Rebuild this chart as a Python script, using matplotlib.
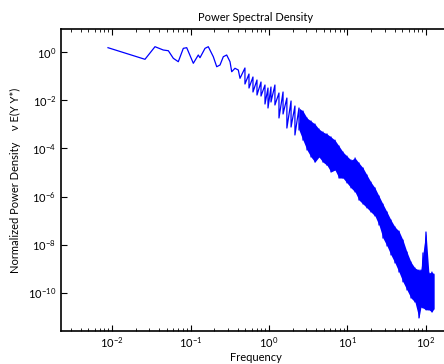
import numpy as np
import matplotlib
matplotlib.use("Agg")
import matplotlib.pyplot as plt
from matplotlib.ticker import LogLocator, NullFormatter, NullLocator, FixedLocator

plt.rcParams['font.family'] = ['Lato', 'DejaVu Sans']
plt.rcParams['mathtext.default'] = 'regular'

# low frequency part: single spectral bins
low_freq = [0.00889, 0.0263, 0.0353, 0.0450, 0.0522, 0.0604, 0.0699, 0.0810,
            0.0895, 0.1086, 0.1257, 0.1321, 0.1531, 0.1685, 0.1952, 0.2158,
            0.2377, 0.2618, 0.2891, 0.3187, 0.3350, 0.3687, 0.4064, 0.4273]
low_psd = [1.51, 0.498, 1.66, 1.21, 1.13, 0.548, 0.396, 1.42,
           1.51, 0.340, 0.751, 0.580, 1.42, 1.66, 0.638, 0.245,
           0.289, 0.638, 0.751, 0.396, 0.152, 0.211, 0.179, 0.0810]

# dense part: upper / lower edge of the noisy band
band_freq = [0.494, 0.556, 0.625, 0.703, 0.791, 0.889, 0.971, 1.06, 1.19, 1.34,
             1.51, 1.69, 1.91, 2.14, 2.41, 2.71, 3.05, 3.43, 3.85, 4.33,
             4.87, 5.48, 6.16, 6.93, 7.79, 8.76, 9.85, 11.1, 12.5, 14.0,
             15.8, 17.7, 19.9, 22.4, 25.2, 28.3, 31.9, 35.8, 40.3, 45.3,
             50.9, 57.3, 64.4, 72.4, 81.4, 86.3, 91.6, 100.0, 109.0, 119.0, 126.0]
band_upper = [0.217, 0.122, 0.0918, 0.0689, 0.0569, 0.0427, 0.032, 0.0353, 0.0427, 0.0199,
              0.0219, 0.0123, 0.00927, 0.00574, 0.00475, 0.00356, 0.00183, 0.00137, 0.00103, 6.4e-4,
              4.8e-4, 4.0e-4, 3.0e-4, 2.2e-4, 1.26e-4, 7.1e-5, 4.8e-5, 3.3e-5, 4.0e-5, 2.5e-5,
              1.54e-5, 7.9e-6, 4.0e-6, 2.3e-6, 1.06e-6, 4.9e-7, 2.3e-7, 1.07e-7, 5.5e-8, 3.7e-8,
              1.58e-8, 5.0e-9, 1.93e-9, 1.09e-9, 9.0e-10, 9.0e-10, 4.6e-9, 3.4e-8, 6.8e-10, 7.4e-10, 6.1e-10]
band_lower = [0.047, 0.032, 0.0219, 0.0164, 0.0149, 0.00695, 0.00475, 0.00841, 0.00632, 0.00183,
              0.00268, 7.0e-4, 7.7e-4, 3.6e-4, 5.8e-4, 2.2e-4, 8.6e-5, 4.4e-5, 2.7e-5, 4.4e-5,
              2.7e-5, 2.0e-5, 1.05e-5, 1.27e-5, 5.9e-6, 5.9e-6, 3.7e-6, 2.3e-6, 1.55e-6, 7.2e-7,
              4.9e-7, 3.4e-7, 2.3e-7, 1.57e-7, 6.6e-8, 1.9e-8, 8.9e-9, 3.8e-9, 1.76e-9, 7.4e-10,
              2.9e-10, 1.33e-10, 6.2e-11, 4.2e-11, 9.2e-12, 2.6e-11, 2.4e-11, 2.0e-11, 2.0e-11, 1.63e-11, 2.2e-11]

y_ticks = [1e-10, 1e-8, 1e-6, 1e-4, 1e-2, 1e0]

fig = plt.figure(figsize=(4.44, 3.64), dpi=100)
ax = fig.add_axes([0.1374, 0.0907, 0.876, 0.8296])

ax.set_xscale('log')
ax.set_yscale('log')

# zigzag through the band edges, joined to the low-frequency line
zz_f = np.repeat(band_freq, 2)
zz_p = np.column_stack([band_upper, band_lower]).ravel()
ax.plot(np.concatenate([low_freq, zz_f]), np.concatenate([low_psd, zz_p]),
        color=(0, 0, 1), lw=0.9)
bf = np.array(band_freq)
solid = bf >= 2.4
ax.fill_between(bf[solid], np.array(band_lower)[solid], np.array(band_upper)[solid],
                color=(0, 0, 1), lw=0)

ax.set_xlim(0.00224, 202)
ax.set_ylim(2.65e-12, 9.0)
ax.yaxis.set_major_locator(FixedLocator(y_ticks))
ax.yaxis.set_minor_locator(NullLocator())
ax.yaxis.set_minor_formatter(NullFormatter())
ax.xaxis.set_major_locator(LogLocator(base=10, numticks=20))
ax.xaxis.set_minor_locator(LogLocator(base=10, subs=np.arange(2, 10), numticks=20))
ax.xaxis.set_minor_formatter(NullFormatter())

ax.tick_params(which='both', direction='in', top=True, right=True, labelsize=8)
ax.tick_params(which='major', length=4, width=0.8)
ax.tick_params(which='minor', length=2, width=0.6)
for s in ax.spines.values():
    s.set_linewidth(1.2)

ax.set_title('Power Spectral Density', fontsize=8, pad=6)
ax.set_xlabel('Frequency', fontsize=8, labelpad=1)
ax.set_ylabel('Normalized Power Density    \u03bd E(Y Y*)', fontsize=8, labelpad=5)

fig.savefig('out.png', dpi=100)
